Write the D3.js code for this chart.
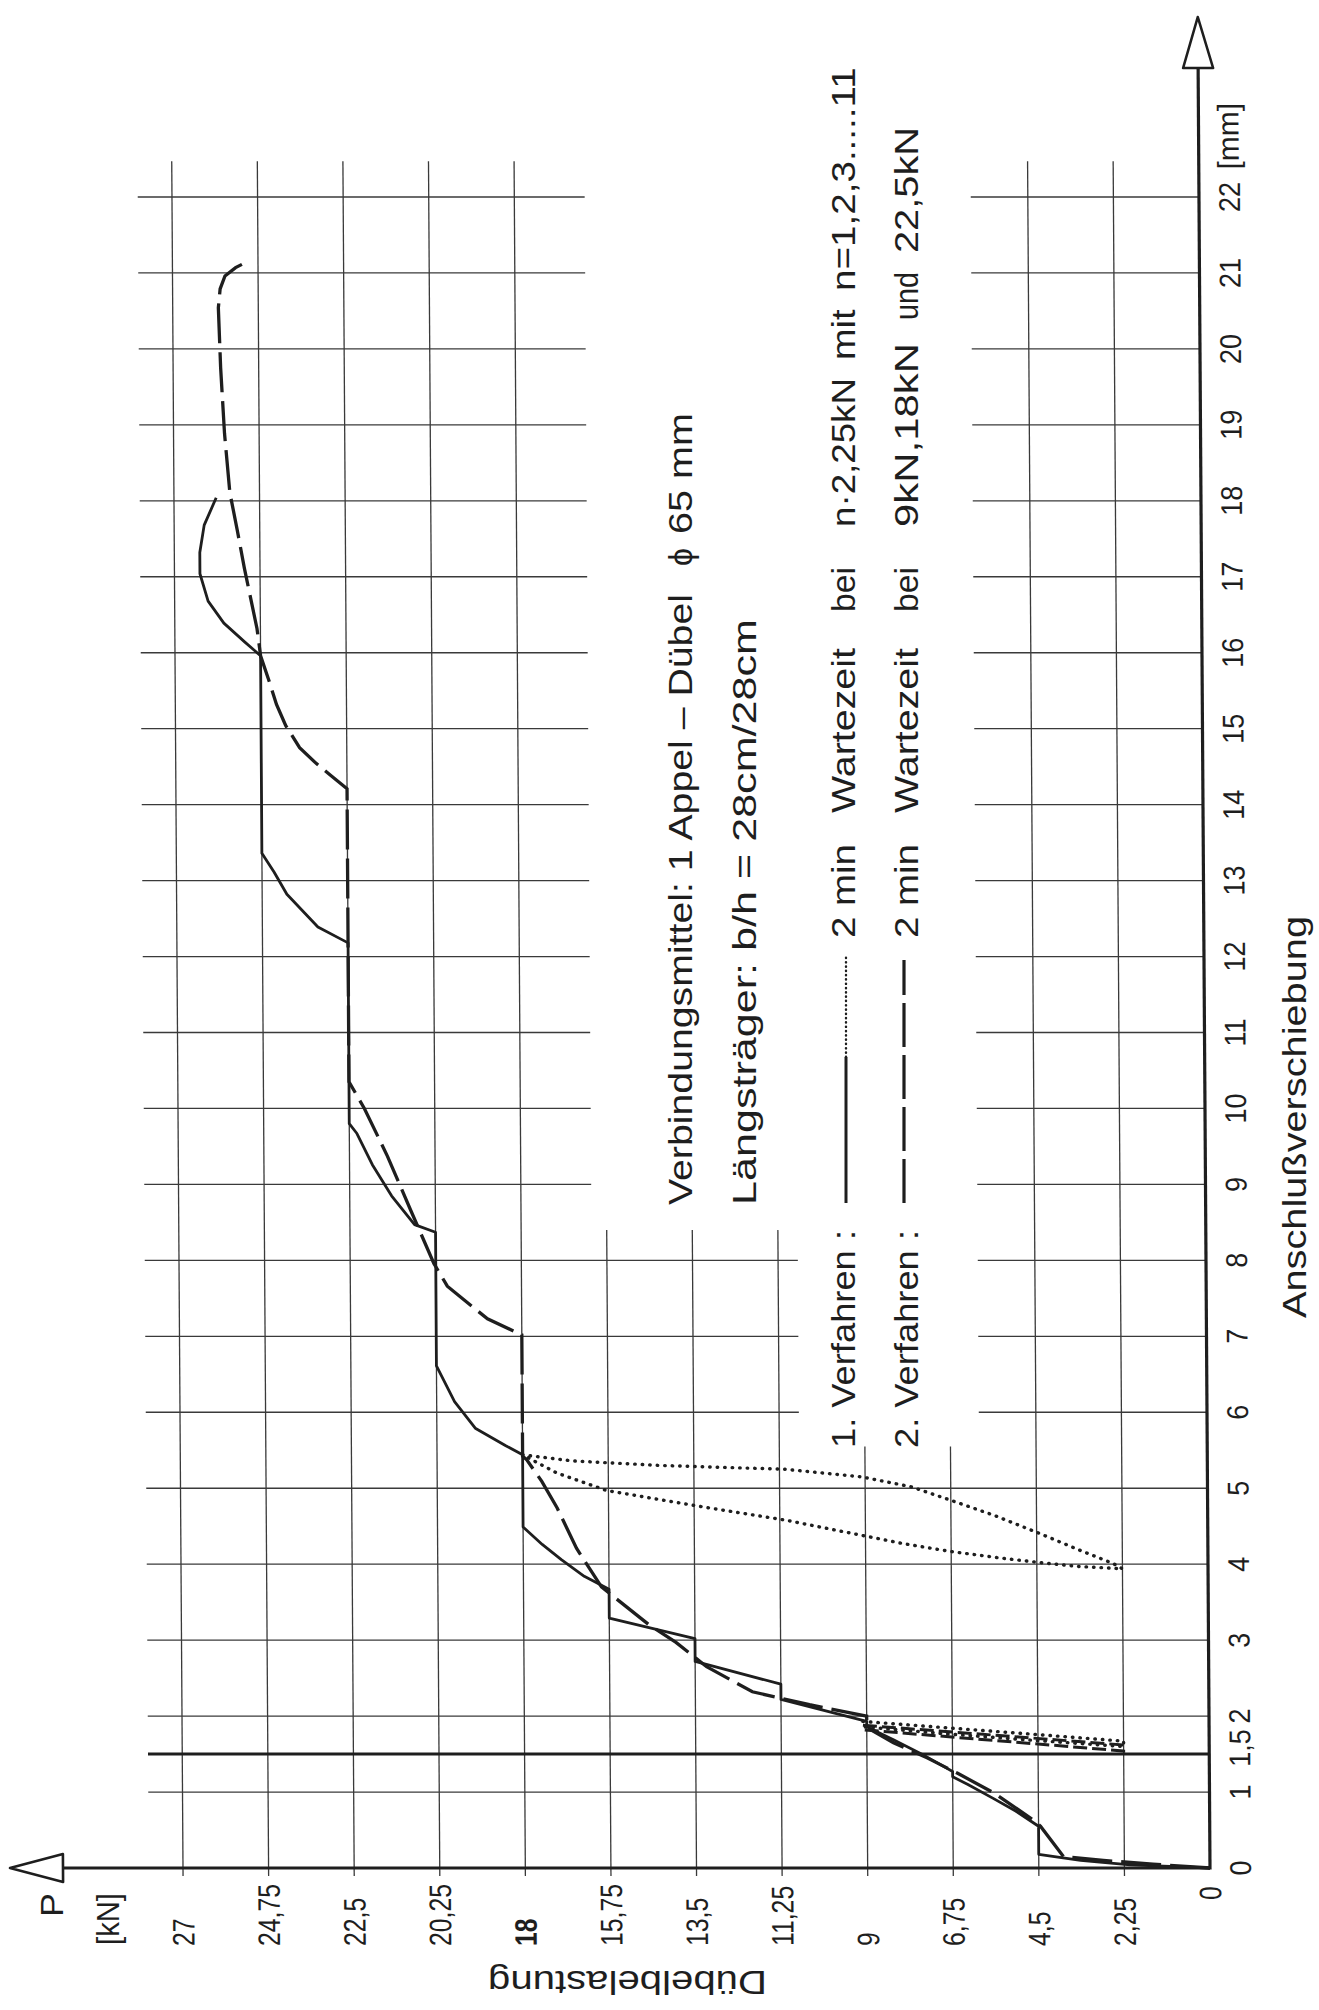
<!DOCTYPE html>
<html><head><meta charset="utf-8">
<script src="https://cdn.jsdelivr.net/npm/d3@7"></script>
<style>body{margin:0;background:#fff}</style>
</head><body>
<svg id="c" width="1319" height="2010"></svg>
<script>
// ---------- data ----------
const pTicks = [0,2.25,4.5,6.75,9,11.25,13.5,15.75,18,20.25,22.5,24.75,27];
const pTickLabels = ["0","2,25","4,5","6,75","9","11,25","13,5","15,75","18","20,25","22,5","24,75","27"];
const mmTicks = [0,1,1.5,2,3,4,5,6,7,8,9,10,11,12,13,14,15,16,17,18,19,20,21,22];
const mmTickLabels = ["0","1","1,5","2","3","4","5","6","7","8","9","10","11","12","13","14","15","16","17","18","19","20","21","22"];
const gridMM = [1,2,3,4,5,6,7,8,9,10,11,12,13,14,15,16,17,18,19,20,21,22];

// [mm, kN]
const verfahren1 = [[0,0],[0.04,2.1],[0.1,3.4],[0.18,4.5],[0.55,4.5],[0.75,5.1],[0.92,5.7],[1.1,6.35],[1.2,6.75],[1.27,6.75],
 [1.47,7.45],[1.69,8.3],[1.86,9.0],[1.93,9.0],[2.22,11.25],[2.42,11.25],[2.72,13.5],[3.02,13.5],[3.29,15.75],[3.67,15.75],
 [3.84,16.4],[4.06,17.0],[4.26,17.5],[4.49,18.0],[5.44,18.0],[5.56,18.44],[5.79,19.24],[6.14,19.78],[6.61,20.25],[8.37,20.25],
 [8.47,20.8],[8.85,21.4],[9.26,21.9],[9.67,22.3],[9.8,22.5],[12.18,22.5],[12.39,23.29],[12.82,24.1],[13.11,24.43],[13.36,24.75],
 [15.96,24.75],[16.14,25.16],[16.39,25.71],[16.68,26.12],[17.04,26.33],[17.32,26.33],[17.68,26.21],[18.04,25.89]];
const verfahren2 = [[0,0],[0.05,1.5],[0.1,2.8],[0.15,3.85],[0.55,4.45],[0.64,4.66],[0.99,5.67],[1.25,6.63],[1.45,7.42],[1.65,8.3],
 [1.85,9.0],[2.0,9.0],[2.15,10.5],[2.32,12.0],[2.65,13.2],[2.97,14.0],[3.2,14.7],[3.7,15.95],[4.21,16.6],[4.74,17.1],[5.09,17.5],
 [5.38,17.9],[5.42,18.0],[7.02,18.0],[7.23,18.9],[7.66,19.95],[7.96,20.3],[8.66,20.9],[9.37,21.5],[10.0,22.1],[10.35,22.5],
 [14.21,22.5],[14.39,22.94],[14.54,23.3],[14.75,23.74],[15.04,24.1],[15.32,24.34],[15.61,24.52],[15.96,24.75],[16.32,24.84],
 [17.11,25.16],[17.61,25.34],[18.11,25.53],[18.89,25.66],[19.75,25.75],[20.54,25.8],[20.79,25.75],[20.96,25.62],[21.07,25.34],[21.14,25.07]];
const entlastung1a = [[1.93,9.1],[1.85,7.0],[1.76,4.6],[1.67,2.25],[1.6,2.25],[1.68,4.6],[1.77,7.0],[1.86,9.1]];
const entlastung2a = [[1.88,9.1],[1.62,2.25],[1.54,2.25],[1.82,9.1]];
const entlastung1b = [[5.44,18.0],[5.36,16.7],[5.3,14.4],[5.25,11.1],[5.15,9.1],[5.02,7.8],[4.85,6.8],[4.64,5.6],[4.4,4.4],[4.19,3.4],
 [4.01,2.5],[3.94,2.25],[3.97,3.4],[4.02,4.4],[4.09,5.6],[4.17,6.8],[4.27,8.0],[4.38,9.1],[4.58,11.1],[4.74,13.1],[4.85,14.4],
 [4.97,15.8],[5.2,17.1],[5.44,18.0]];

// ---------- layout ----------
const svg = d3.select("#c");
svg.append("rect").attr("width",1319).attr("height",2010).attr("fill","#fff");
const xP = d3.scaleLinear().domain([0,27]).range([1210,183]);
const yM = d3.scaleLinear().domain([0,22]).range([1868,197]);
const k = 0.0066;
const g = svg.append("g").attr("transform",`matrix(1,0,${k},1,${-k*1868},0)`);
const ink = "#1e1e1e";
const FONT = "'Liberation Sans', Arial, sans-serif";

// grid: vertical (constant P)
const vTop = p => (p===6.75||p===9) ? 5.55 : (p>=11.25 && p<=15.75) ? 8.4 : 22.47;
g.append("g").selectAll("line").data(pTicks.filter(d=>d>0)).join("line")
  .attr("x1",d=>xP(d)).attr("x2",d=>xP(d))
  .attr("y1",d=>yM(vTop(d))).attr("y2",yM(0)+8)
  .attr("stroke","#3a3a3a").attr("stroke-width",1.3);
// grid: horizontal (constant mm)
const hSegs = gridMM.flatMap(m => m>=9 ? [[m,27.9,16.15],[m,6.0,0]] : m>=6 ? [[m,27.9,10.73],[m,6.0,0]] : [[m,27.9,0]]);
g.append("g").selectAll("line").data(hSegs).join("line")
  .attr("x1",d=>xP(d[1])).attr("x2",d=>xP(d[2]))
  .attr("y1",d=>yM(d[0])).attr("y2",d=>yM(d[0]))
  .attr("stroke","#3a3a3a").attr("stroke-width",1.3);
// heavy 1,5 mm line
g.append("line").attr("x1",xP(27.9)).attr("x2",xP(0)).attr("y1",yM(1.5)).attr("y2",yM(1.5))
  .attr("stroke",ink).attr("stroke-width",3);

// axes
g.append("line").attr("x1",xP(0)).attr("x2",62).attr("y1",yM(0)).attr("y2",yM(0)).attr("stroke",ink).attr("stroke-width",3.2);
g.append("line").attr("x1",xP(0)).attr("x2",xP(0)).attr("y1",yM(0)+1.5).attr("y2",68).attr("stroke",ink).attr("stroke-width",3.2);
g.append("path").attr("d",`M10,${yM(0)} L63,${yM(0)-14} L63,${yM(0)+14} Z`).attr("fill","#fff").attr("stroke",ink).attr("stroke-width",2.6).attr("stroke-linejoin","round");
g.append("path").attr("d",`M${xP(0)},17 L${xP(0)-15},68 L${xP(0)+15},68 Z`).attr("fill","#fff").attr("stroke",ink).attr("stroke-width",2.6).attr("stroke-linejoin","round");

// curves
const line = d3.line().x(d=>xP(d[1])).y(d=>yM(d[0]));
g.append("path").datum(verfahren1).attr("d",line).attr("fill","none").attr("stroke",ink).attr("stroke-width",2.8).attr("stroke-linejoin","round");
g.append("path").datum(verfahren2).attr("d",line).attr("fill","none").attr("stroke",ink).attr("stroke-width",3.3).attr("stroke-dasharray","40,9");
g.append("path").datum(entlastung2a).attr("d",line).attr("fill","none").attr("stroke",ink).attr("stroke-width",3).attr("stroke-dasharray","14,5");
[entlastung1a, entlastung1b].forEach(dat=>{
  g.append("path").datum(dat).attr("d",line).attr("fill","none").attr("stroke",ink).attr("stroke-width",3.4)
   .attr("stroke-linecap","round").attr("stroke-dasharray","0.5,7");
});

// tick labels P (read upward, below axis)
g.append("g").selectAll("text").data(pTicks).join("text")
  .attr("transform",(d,i)=>`translate(${xP(d)+11},${d===0?1900:1946}) rotate(-90) scale(0.8,1)`)
  .attr("font-family",FONT).attr("font-size",31).attr("fill",ink)
  .attr("font-weight",d=>d===18?"bold":"normal")
  .text((d,i)=>pTickLabels[i]);
// tick labels mm (right of axis)
g.append("g").selectAll("text").data(mmTicks).join("text")
  .attr("transform",d=>`translate(1251,${yM(d)+(d===1.5?-6:0)}) rotate(-90) scale(0.9,1)`)
  .attr("text-anchor","middle").attr("font-family",FONT).attr("font-size",30).attr("fill",ink)
  .text((d,i)=>mmTickLabels[i]);
g.append("text").attr("transform",`translate(1250,${yM(22.8)}) rotate(-90)`).attr("text-anchor","middle")
  .attr("font-family",FONT).attr("font-size",30).attr("fill",ink).text("[mm]");

// free text (absolute)
function vtext(str, xb, y0, y1, fs){
  return svg.append("text").attr("transform",`translate(${xb},${y0}) rotate(-90)`)
    .attr("font-family",FONT).attr("font-size",fs).attr("fill",ink)
    .attr("textLength", y0-y1).attr("lengthAdjust","spacingAndGlyphs").text(str);
}
function vword(str, xb, y0, fs, f){
  const t = svg.append("text").attr("transform",`translate(${xb},${y0}) rotate(-90)`)
    .attr("font-family",FONT).attr("font-size",fs).attr("fill",ink).text(str);
  const L = t.node().getComputedTextLength();
  t.attr("textLength", L*f).attr("lengthAdjust","spacingAndGlyphs");
  return t;
}
vtext("P", 63, 1917, 1893, 32);
vtext("[kN]", 119, 1945, 1893, 32);
vtext("Anschlußverschiebung", 1306, 1318, 916, 33);
svg.append("text").attr("transform","translate(767,1971) rotate(180)")
  .attr("font-family",FONT).attr("font-size",33).attr("fill",ink)
  .attr("textLength",279).attr("lengthAdjust","spacingAndGlyphs").text("Dübelbelastung");

vtext("Verbindungsmittel: 1 Appel – Dübel", 692, 1205, 594, 33);
vtext("ϕ", 692, 566, 548, 33);
vtext("65 mm", 692, 534, 413, 33);
vtext("Längsträger:  b/h = 28cm/28cm", 756, 1205, 619, 33);
vtext("1. Verfahren :", 855, 1448, 1230, 33);
vtext("2. Verfahren :", 918, 1448, 1230, 33);
[["2 min",938,844],["Wartezeit",813,648],["bei",612,567]].forEach(w=>{
  vtext(w[0],855,w[1],w[2],33); vtext(w[0],918,w[1],w[2],33);
});
vtext("n·2,25kN",855,527,378,33);
vword("mit",855,360,33,1.15);
vword("n=1,2,3.....11",855,291,33,1.17);
vtext("9kN,18kN",918,527,343,33);
vtext("und",918,320,272,33);
vtext("22,5kN",918,253,127,33);
// legend samples
svg.append("line").attr("x1",846).attr("x2",846).attr("y1",1203).attr("y2",1057).attr("stroke",ink).attr("stroke-width",3);
svg.append("line").attr("x1",846).attr("x2",846).attr("y1",1057).attr("y2",956).attr("stroke",ink).attr("stroke-width",2.4)
  .attr("stroke-linecap","round").attr("stroke-dasharray","0.3,4");
svg.append("line").attr("x1",904).attr("x2",904).attr("y1",1203).attr("y2",960).attr("stroke",ink).attr("stroke-width",3.2)
  .attr("stroke-dasharray","44,8");
</script>
</body></html>
